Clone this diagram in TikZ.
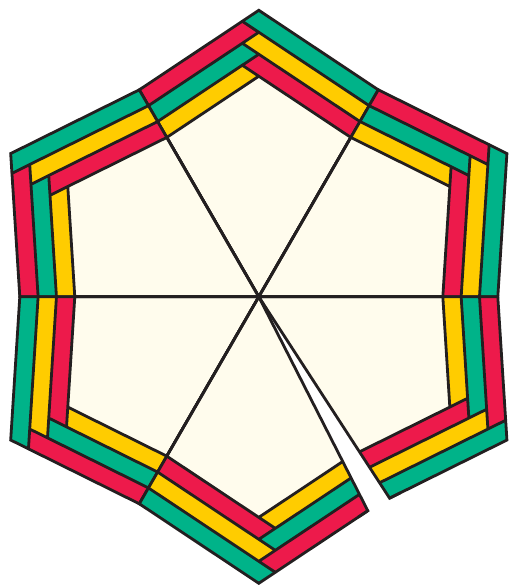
\documentclass[tikz,border=0pt]{standalone}
\usetikzlibrary{calc}
\definecolor{cgreen}{RGB}{0,179,137}
\definecolor{cred}{RGB}{237,26,75}
\definecolor{cyellow}{RGB}{255,204,0}
\definecolor{ccream}{RGB}{255,252,237}
\definecolor{cline}{RGB}{35,31,32}
\newcommand\piecepoints{%
  \coordinate (C) at (0,0);
  \coordinate (V) at (90:286.5);
  \coordinate (MR) at (60:239);
  \coordinate (ML) at (120:239);
  \coordinate (RA1) at ($(V)!18.3pt!-90:(MR)$);
  \coordinate (RB1) at ($(MR)!18.3pt!90:(V)$);
  \coordinate (RA2) at ($(V)!36.6pt!-90:(MR)$);
  \coordinate (RB2) at ($(MR)!36.6pt!90:(V)$);
  \coordinate (RA3) at ($(V)!54.9pt!-90:(MR)$);
  \coordinate (RB3) at ($(MR)!54.9pt!90:(V)$);
  \coordinate (LA1) at ($(V)!18.3pt!90:(ML)$);
  \coordinate (LB1) at ($(ML)!18.3pt!-90:(V)$);
  \coordinate (LA2) at ($(V)!36.6pt!90:(ML)$);
  \coordinate (LB2) at ($(ML)!36.6pt!-90:(V)$);
  \coordinate (LA3) at ($(V)!54.9pt!90:(ML)$);
  \coordinate (LB3) at ($(ML)!54.9pt!-90:(V)$);
  \coordinate (Q1) at (intersection of RA1--RB1 and C--MR);
  \coordinate (Q2) at (intersection of RA2--RB2 and C--MR);
  \coordinate (Q3) at (intersection of RA3--RB3 and C--MR);
  \coordinate (K1) at (intersection of LA1--LB1 and C--ML);
  \coordinate (K2) at (intersection of LA2--LB2 and C--ML);
  \coordinate (K3) at (intersection of LA3--LB3 and C--ML);
  \coordinate (P01) at (intersection of V--ML and RA1--RB1);
  \coordinate (P11) at (intersection of LA1--LB1 and RA1--RB1);
  \coordinate (P12) at (intersection of LA1--LB1 and RA2--RB2);
  \coordinate (P22) at (intersection of LA2--LB2 and RA2--RB2);
  \coordinate (P23) at (intersection of LA2--LB2 and RA3--RB3);
  \coordinate (P33) at (intersection of LA3--LB3 and RA3--RB3);
}
\newcommand\drawpiece{%
  \fill[cgreen] (V) -- (MR) -- (Q1) -- (P01) -- cycle;
  \fill[cred] (P01) -- (P11) -- (K1) -- (ML) -- cycle;
  \fill[cyellow] (P11) -- (Q1) -- (Q2) -- (P12) -- cycle;
  \fill[cgreen] (P12) -- (P22) -- (K2) -- (K1) -- cycle;
  \fill[cred] (P22) -- (Q2) -- (Q3) -- (P23) -- cycle;
  \fill[cyellow] (P23) -- (P33) -- (K3) -- (K2) -- cycle;
  \fill[ccream] (P33) -- (Q3) -- (C) -- (K3) -- cycle;
  \draw[inner] (P01) -- (Q1) (P11) -- (K1) (P12) -- (Q2) (P22) -- (K2)
     (P23) -- (Q3) (P33) -- (K3) (C) -- (Q3) (C) -- (K3);
  \draw[outer] (C) -- (ML) -- (V) -- (MR) -- cycle;
}
\begin{document}
\begin{tikzpicture}[x=1pt,y=1pt,color=cline,line width=2.8pt,
  inner/.style={line cap=round,line join=round},
  outer/.style={line join=miter}]
\useasboundingbox (0,0) rectangle (510,585);
\foreach \ang in {0,60,120,300}{
  \begin{scope}[shift={(258.8,288.2)},rotate=\ang]
    \piecepoints
    \drawpiece
  \end{scope}
}
% bottom piece, trimmed on its CCW side
\begin{scope}[shift={(258.8,288.2)},rotate=180]
  \piecepoints
  \begin{scope}
    \clip (0,0) -- (117:600) -- (90:600) -- (20:600) -- cycle;
    \drawpiece
  \end{scope}
  \coordinate (G1) at (117:20);
  \coordinate (E1) at (intersection of V--ML and C--G1);
  \draw[outer] ($(E1)!12pt!(V)$) -- (E1) -- (C);
\end{scope}
% lower-right piece, trimmed on its CW side
\begin{scope}[shift={(258.8,288.2)},rotate=240]
  \piecepoints
  \begin{scope}
    \clip (0,0) -- (63:600) -- (90:600) -- (160:600) -- cycle;
    \drawpiece
  \end{scope}
  \coordinate (G2) at (63:20);
  \coordinate (E2) at (intersection of V--MR and C--G2);
  \draw[outer] ($(E2)!12pt!(V)$) -- (E2) -- (C);
\end{scope}
\end{tikzpicture}
\end{document}
